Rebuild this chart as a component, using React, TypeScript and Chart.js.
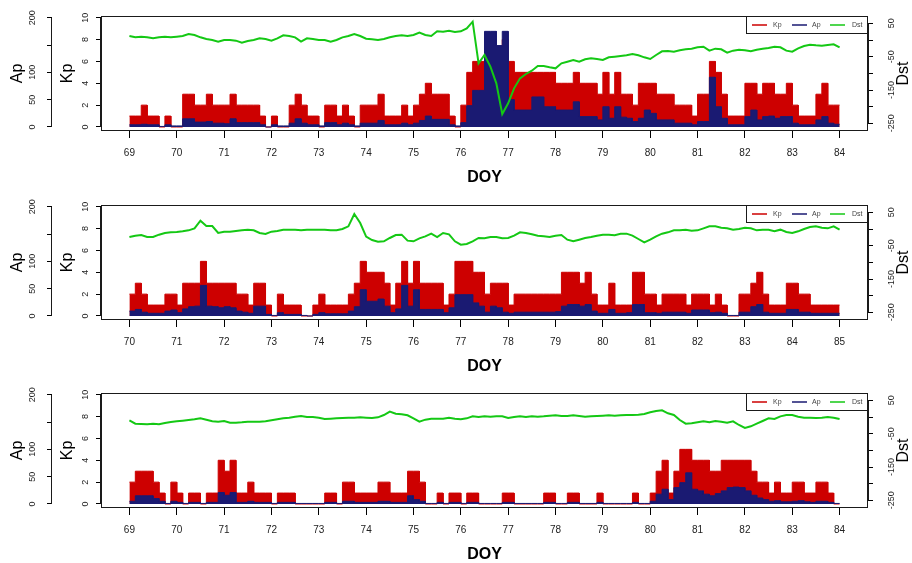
import React, { useEffect, useRef } from 'react';
import { Chart, registerables } from 'chart.js';

Chart.register(...registerables);

const FONT = '"Liberation Sans", Arial, Helvetica, sans-serif';
const RED = '#CD0000';
const NAVY = '#1A1A72';
const GREEN = '#14C814';

// ---------- tick labels ----------
const xTicks1 = [69, 70, 71, 72, 73, 74, 75, 76, 77, 78, 79, 80, 81, 82, 83, 84];
const xTicks2 = [70, 71, 72, 73, 74, 75, 76, 77, 78, 79, 80, 81, 82, 83, 84, 85];
const xTicks3 = [69, 70, 71, 72, 73, 74, 75, 76, 77, 78, 79, 80, 81, 82, 83, 84];
const kpTicks = [0, 2, 4, 6, 8, 10];
const kpTickLabels = ['0', '2', '4', '6', '8', '10'];
const apTicks = [0, 50, 100, 150, 200];
const apTickLabels = ['0', '50', '100', '', '200'];
const dstTicks = [-250, -200, -150, -100, -50, 0, 50];
const dstTickLabels = ['-250', '', '-150', '', '-50', '', '50'];
const legendNames = ['Kp', 'Ap', 'Dst'];

// ---------- panel 1 (DOY 69-84), 3-hourly ----------
const p1Start = 69;
const p1Kp = [
  1, 1, 2, 1, 1, 0, 1, 0,
  0, 3, 3, 2, 2, 3, 2, 2,
  2, 3, 2, 2, 2, 2, 1, 0,
  1, 0, 0, 2, 3, 2, 1, 1,
  0, 2, 2, 1, 2, 1, 0, 2,
  2, 2, 3, 1, 1, 1, 2, 1,
  2, 3, 4, 3, 3, 3, 1, 0,
  2, 5, 6, 6, 8, 8, 7, 8,
  6, 5, 5, 5, 5, 5, 5, 5,
  4, 4, 4, 5, 4, 4, 4, 3,
  5, 3, 5, 3, 3, 2, 4, 4,
  4, 3, 3, 3, 2, 2, 2, 1,
  3, 3, 6, 5, 3, 1, 1, 1,
  4, 4, 3, 4, 4, 3, 3, 4,
  2, 1, 1, 1, 3, 4, 2, 2,
];
const p1Ap = [
  4, 4, 5, 4, 4, 1, 4, 2,
  2, 15, 15, 9, 9, 10, 7, 7,
  6, 15, 8, 8, 8, 8, 4, 0,
  4, 2, 2, 7, 15, 7, 4, 4,
  2, 8, 8, 4, 7, 4, 2, 7,
  7, 7, 12, 4, 4, 4, 7, 4,
  7, 12, 20, 14, 14, 14, 4, 2,
  8, 39, 67, 67, 175, 175, 149, 175,
  50, 31, 31, 31, 55, 55, 37, 37,
  31, 31, 31, 46, 19, 19, 19, 13,
  37, 16, 37, 18, 16, 10, 16, 31,
  25, 13, 13, 13, 7, 7, 7, 4,
  10, 10, 91, 37, 16, 4, 4, 4,
  19, 31, 13, 19, 20, 16, 19, 19,
  7, 4, 4, 4, 13, 19, 7, 5,
];
const p1Dst = [
  12, 8, 10, 8, 5, 8, 10, 8, 10, 12, 18, 15, 8, 3, 0, -5, 0, 0, -2, -8,
  -3, 0, 5, 3, -2, 5, 14, 12, 8, -5, 5, 3, 0, 0, -5, 0, 8, 12, 18, 12,
  4, 2, 0, 3, 8, 12, 14, 12, 15, 22, 15, 12, 26, 25, 28, 24, 26, 35, 55, -70,
  -45, -80, -130, -222, -190, -145, -115, -102, -92, -78, -78, -82, -85, -70, -65, -60, -65, -58, -55, -57,
  -60, -52, -50, -48, -46, -42, -46, -52, -57, -45, -34, -33, -35, -31, -28, -26, -22, -20, -32, -26,
  -28, -38, -32, -29, -31, -34, -29, -26, -24, -20, -22, -32, -35, -25, -18, -14, -16, -17, -15, -13,
  -22,
];

// ---------- panel 2 (DOY 70-85) ----------
const p2Start = 70;
const p2Kp = [
  2, 3, 2, 1, 1, 1, 2, 2,
  1, 3, 3, 3, 5, 3, 3, 3,
  3, 3, 2, 2, 1, 3, 3, 1,
  0, 2, 1, 1, 1, 0, 0, 1,
  2, 1, 1, 1, 1, 2, 3, 5,
  4, 4, 4, 3, 1, 3, 5, 3,
  5, 3, 3, 3, 3, 1, 2, 5,
  5, 5, 4, 4, 2, 3, 3, 3,
  1, 2, 2, 2, 2, 2, 2, 2,
  2, 4, 4, 4, 3, 4, 2, 1,
  1, 3, 1, 1, 1, 4, 4, 2,
  2, 1, 2, 2, 2, 2, 1, 2,
  2, 2, 1, 2, 1, 0, 0, 2,
  2, 3, 4, 2, 1, 1, 1, 3,
  3, 2, 2, 1, 1, 1, 1, 1,
];
const p2Ap = [
  9, 12, 7, 5, 5, 5, 9, 11,
  6, 13, 17, 18, 56, 18, 17, 15,
  17, 15, 9, 7, 5, 18, 18, 3,
  1, 6, 3, 3, 3, 1, 0, 3,
  6, 4, 4, 4, 4, 9, 17, 48,
  27, 27, 31, 18, 6, 13, 56, 18,
  48, 12, 12, 12, 12, 6, 15, 39,
  39, 39, 24, 18, 7, 18, 15, 7,
  5, 7, 7, 7, 7, 7, 7, 7,
  8, 18, 21, 21, 18, 21, 9, 5,
  5, 12, 5, 5, 6, 21, 21, 6,
  6, 5, 7, 7, 7, 7, 5, 11,
  11, 11, 6, 7, 5, 1, 1, 7,
  7, 17, 21, 7, 5, 5, 5, 12,
  12, 7, 7, 5, 5, 5, 5, 5,
];
const p2Dst = [
  -24, -20, -18, -24, -24, -17, -12, -10, -9, -7, -4, 2, 25, 9, 9, -12, -8, -8, -6, -4,
  -2, -4, -12, -15, -8, -6, -2, -2, -2, -4, -2, -2, -2, -2, -4, -4, 0, 8, 45, 18,
  -23, -33, -38, -37, -27, -18, -17, -35, -37, -28, -22, -14, -24, -12, -16, -37, -47, -45, -37, -27,
  -28, -24, -24, -28, -27, -20, -10, -12, -16, -20, -22, -24, -20, -18, -32, -37, -32, -27, -24, -20,
  -17, -17, -19, -14, -14, -20, -30, -40, -32, -22, -14, -10, -4, -4, -2, -5, -4, 2, 8, 8,
  4, 2, -2, 0, 4, 2, -4, -2, -2, -7, -2, -9, -12, -7, 0, 6, 8, 4, 2, 8,
  -2,
];

// ---------- panel 3 (DOY 69-84) ----------
const p3Start = 69;
const p3Kp = [
  2, 3, 3, 3, 2, 1, 0, 2,
  1, 0, 1, 1, 0, 1, 1, 4,
  3, 4, 1, 1, 2, 1, 1, 1,
  0, 1, 1, 1, 0, 0, 0, 0,
  0, 1, 1, 0, 2, 2, 1, 1,
  1, 1, 2, 2, 1, 1, 1, 3,
  3, 2, 0, 0, 1, 0, 1, 1,
  0, 1, 1, 0, 0, 0, 0, 1,
  1, 0, 0, 0, 0, 0, 1, 1,
  0, 0, 1, 1, 0, 0, 0, 1,
  0, 0, 0, 0, 0, 1, 0, 0,
  1, 3, 4, 1, 3, 5, 5, 4,
  4, 4, 3, 3, 4, 4, 4, 4,
  4, 3, 2, 2, 1, 2, 1, 1,
  2, 2, 1, 1, 2, 2, 1, 0,
];
const p3Ap = [
  5, 15, 15, 15, 10, 5, 1, 5,
  3, 1, 3, 3, 1, 3, 3, 21,
  16, 21, 3, 3, 5, 3, 3, 3,
  1, 3, 3, 3, 1, 1, 1, 1,
  1, 3, 3, 1, 5, 5, 3, 3,
  3, 3, 5, 5, 3, 3, 3, 15,
  8, 5, 1, 1, 3, 1, 3, 3,
  1, 3, 3, 1, 1, 1, 1, 3,
  3, 1, 1, 1, 1, 1, 3, 3,
  1, 1, 3, 3, 1, 1, 1, 3,
  1, 1, 1, 1, 1, 3, 1, 1,
  5, 18, 27, 8, 30, 39, 57, 27,
  24, 18, 15, 19, 24, 30, 31, 30,
  24, 16, 11, 8, 5, 6, 4, 4,
  5, 6, 4, 3, 5, 5, 3, 1,
];
const p3Dst = [
  -10, -20, -21, -22, -20, -22, -18, -15, -13, -11, -9, -7, -4, -8, -13, -14, -12, -17, -17, -16,
  -14, -14, -14, -13, -10, -7, -4, -2, 1, 3, 0, 0, -2, -6, -5, -4, -3, -2, -2, -1,
  -2, -3, -1, 6, 16, 10, 8, 5, -4, -14, -8, -5, -5, -5, -2, -5, -7, -4, 2, 0,
  2, 1, 2, 2, -3, 0, 2, 0, 2, 1, 2, 4, 5, 3, 3, 5, 3, 1, 2, 3,
  4, 5, 4, 5, 6, 6, 7, 9, 14, 18, 20, 11, 6, -9, -20, -19, -16, -13, -16, -12,
  -14, -17, -13, -24, -33, -28, -20, -12, -4, -6, 2, 6, 6, 1, -2, -2, -3, -2, 0, -2,
  -6,
];

// ---------- scale ranges ----------
const KP_MIN = -0.366;
const KP_MAX = 10.155;
const AP_MIN = KP_MIN * 20;
const AP_MAX = KP_MAX * 20;
const DST_MIN = -273;
const DST_MAX = 72;
const BINS_PER_DAY = 8;

function stepPoints(start: number, vals: number[]) {
  const pts: { x: number; y: number }[] = [];
  vals.forEach((v, i) => {
    pts.push({ x: start + i / BINS_PER_DAY, y: v });
    pts.push({ x: start + (i + 1) / BINS_PER_DAY, y: v });
  });
  return pts;
}

function linePoints(start: number, vals: number[]) {
  return vals.map((v, k) => ({ x: start + k / BINS_PER_DAY, y: v }));
}

function labelFrom(ticks: number[], labels: string[]) {
  return (v: any) => {
    const i = ticks.indexOf(Number(v));
    return i >= 0 ? labels[i] : '';
  };
}

const framePlugin = {
  id: 'frame',
  afterDraw(chart: any) {
    const { ctx, chartArea: a, scales } = chart;
    ctx.save();
    ctx.strokeStyle = '#1a1a1a';
    ctx.lineWidth = 1;
    // plot box
    ctx.strokeRect(a.left + 0.5, a.top + 0.5, a.right - a.left - 1, a.bottom - a.top - 1);
    // axis lines spanning first..last tick
    const vline = (x: number, y1: number, y2: number) => {
      ctx.beginPath();
      ctx.moveTo(x, y1);
      ctx.lineTo(x, y2);
      ctx.stroke();
    };
    const ap = scales.ap, kp = scales.kp, dst = scales.dst;
    vline(ap.right - 0.5, ap.getPixelForValue(apTicks[0]), ap.getPixelForValue(apTicks[apTicks.length - 1]));
    vline(kp.right - 0.5, kp.getPixelForValue(kpTicks[0]), kp.getPixelForValue(kpTicks[kpTicks.length - 1]));
    vline(dst.left + 0.5, dst.getPixelForValue(dstTicks[0]), dst.getPixelForValue(dstTicks[dstTicks.length - 1]));

    // legend
    const lw = 122, lh = 17;
    const lx = a.right - lw, ly = a.top;
    ctx.fillStyle = '#fff';
    ctx.fillRect(lx, ly, lw, lh);
    ctx.strokeStyle = '#1a1a1a';
    ctx.strokeRect(lx + 0.5, ly + 0.5, lw - 1, lh);
    const colors = [RED, NAVY, GREEN];
    const lineX = [6, 46, 84];
    const textX = [27, 66, 106];
    ctx.font = '7px ' + FONT;
    ctx.textBaseline = 'middle';
    ctx.textAlign = 'left';
    legendNames.forEach((name, i) => {
      ctx.strokeStyle = colors[i];
      ctx.lineWidth = 1.5;
      ctx.beginPath();
      ctx.moveTo(lx + lineX[i], ly + 9);
      ctx.lineTo(lx + lineX[i] + 15, ly + 9);
      ctx.stroke();
      ctx.fillStyle = '#444';
      ctx.fillText(name, lx + textX[i], ly + 9);
    });

    // right axis title (reads bottom-to-top)
    ctx.translate(904, (a.top + a.bottom) / 2);
    ctx.rotate(-Math.PI / 2);
    ctx.font = '16px ' + FONT;
    ctx.fillStyle = '#000';
    ctx.textAlign = 'center';
    ctx.textBaseline = 'middle';
    ctx.fillText('Dst', 0, 0);
    ctx.restore();
  },
};

type PanelProps = { start: number; days: number[]; kp: number[]; ap: number[]; dst: number[] };

function Panel({ start, days, kp, ap, dst }: PanelProps) {
  const ref = useRef<HTMLCanvasElement>(null);
  useEffect(() => {
    const yTickFont = { family: FONT, size: 9 };
    const yGrid = { drawOnChartArea: false, tickLength: 5, color: '#000', tickColor: '#000', lineWidth: 1 };
    const chart = new Chart(ref.current as HTMLCanvasElement, {
      type: 'line',
      data: {
        datasets: [
          {
            label: 'Dst', data: linePoints(start, dst), yAxisID: 'dst', xAxisID: 'x',
            borderColor: GREEN, borderWidth: 2, pointRadius: 0, fill: false, tension: 0, order: 0,
          },
          {
            label: 'Ap', data: stepPoints(start, ap), yAxisID: 'ap', xAxisID: 'x',
            borderColor: NAVY, backgroundColor: NAVY, borderWidth: 1, pointRadius: 0, fill: 'origin', tension: 0, order: 1,
          },
          {
            label: 'Kp', data: stepPoints(start, kp), yAxisID: 'kp', xAxisID: 'x',
            borderColor: RED, backgroundColor: RED, borderWidth: 1, pointRadius: 0, fill: 'origin', tension: 0, order: 2,
          },
        ] as any,
      },
      options: {
        animation: false,
        responsive: false,
        events: [],
        layout: { padding: { top: 16, left: 0, right: 0, bottom: 0 } },
        plugins: { legend: { display: false }, tooltip: { enabled: false } },
        scales: {
          x: {
            type: 'linear',
            position: 'bottom',
            min: start - 0.6,
            max: start + 15.6,
            afterBuildTicks: (s: any) => { s.ticks = days.map((v) => ({ value: v })); },
            afterFit: (s: any) => { s.height = 57; },
            ticks: {
              font: { family: FONT, size: 10 }, color: '#222', padding: 9,
              autoSkip: false, maxRotation: 0, minRotation: 0,
              callback: (v: any) => String(v),
            },
            grid: { drawOnChartArea: false, tickLength: 7, color: '#000', tickColor: '#000' },
            border: { display: false },
            title: {
              display: true, text: 'DOY', color: '#000',
              font: { family: FONT, size: 16, weight: 'bold' },
              padding: { top: 0, bottom: 1 },
            },
          },
          ap: {
            type: 'linear', position: 'left', weight: 2,
            min: AP_MIN, max: AP_MAX,
            afterBuildTicks: (s: any) => { s.ticks = apTicks.map((v) => ({ value: v })); },
            afterFit: (s: any) => { s.width = 52; },
            ticks: {
              font: yTickFont, color: '#222', padding: 6.5, autoSkip: false,
              minRotation: 90, maxRotation: 90, crossAlign: 'center',
              callback: labelFrom(apTicks, apTickLabels),
            },
            grid: yGrid,
            border: { display: false },
            title: { display: true, text: 'Ap', color: '#000', font: { family: FONT, size: 16 }, padding: { top: 8, bottom: 0 } },
          },
          kp: {
            type: 'linear', position: 'left', weight: 1,
            min: KP_MIN, max: KP_MAX,
            afterBuildTicks: (s: any) => { s.ticks = kpTicks.map((v) => ({ value: v })); },
            afterFit: (s: any) => { s.width = 49; },
            ticks: {
              font: yTickFont, color: '#222', padding: 5, autoSkip: false,
              minRotation: 90, maxRotation: 90, crossAlign: 'center',
              callback: labelFrom(kpTicks, kpTickLabels),
            },
            grid: yGrid,
            border: { display: false },
            title: { display: true, text: 'Kp', color: '#000', font: { family: FONT, size: 16 }, padding: { top: 6, bottom: 0 } },
          },
          dst: {
            type: 'linear', position: 'right', weight: 1,
            min: DST_MIN, max: DST_MAX,
            afterBuildTicks: (s: any) => { s.ticks = dstTicks.map((v) => ({ value: v })); },
            afterFit: (s: any) => { s.width = 44; },
            ticks: {
              font: yTickFont, color: '#222', padding: 10, autoSkip: false,
              minRotation: 90, maxRotation: 90, crossAlign: 'center',
              callback: labelFrom(dstTicks, dstTickLabels),
            },
            grid: yGrid,
            border: { display: false },
            title: { display: false },
          },
        },
      } as any,
      plugins: [framePlugin],
    });
    return () => chart.destroy();
  }, [start, days, kp, ap, dst]);
  return <canvas ref={ref} width={912} height={188} style={{ display: 'block', width: 912, height: 188 }} />;
}

export default function App() {
  return (
    <div style={{ position: 'fixed', left: 0, top: 0, width: 912, height: 563, background: '#fff', overflow: 'hidden' }}>
      <div style={{ position: 'absolute', left: 0, top: 0 }}>
        <Panel start={p1Start} days={xTicks1} kp={p1Kp} ap={p1Ap} dst={p1Dst} />
      </div>
      <div style={{ position: 'absolute', left: 0, top: 189 }}>
        <Panel start={p2Start} days={xTicks2} kp={p2Kp} ap={p2Ap} dst={p2Dst} />
      </div>
      <div style={{ position: 'absolute', left: 0, top: 377 }}>
        <Panel start={p3Start} days={xTicks3} kp={p3Kp} ap={p3Ap} dst={p3Dst} />
      </div>
    </div>
  );
}
